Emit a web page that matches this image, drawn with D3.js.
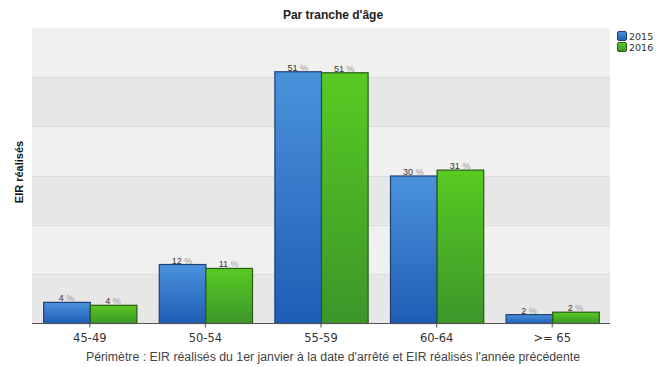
<!DOCTYPE html>
<html>
<head>
<meta charset="utf-8">
<script src="https://cdn.jsdelivr.net/npm/d3@7"></script>
<style>
  body { margin: 0; background: #fff; }
  svg { display: block; font-family: "Liberation Sans", Arial, sans-serif; }
</style>
</head>
<body>
<script>
// ---------------------
// Data
// ---------------------
var categories = ["45-49", "50-54", "55-59", "60-64", ">= 65"];
var series = ["2015", "2016"];
var values2015 = [4.3, 12, 51.2, 30, 1.8];
var values2016 = [3.7, 11.2, 51, 31.2, 2.3];
var labels2015 = ["4", "12", "51", "30", "2"];
var labels2016 = ["4", "11", "51", "31", "2"];
var yTicks = [0, 10, 20, 30, 40, 50, 60];

var w = 657, h = 367;
var pLeft = 32, pRight = 610, pTop = 28, pBottom = 323;

var svg = d3.select("body").append("svg")
  .attr("width", w)
  .attr("height", h);

var defs = svg.append("defs");
function grad(id, c1, c2) {
  var g = defs.append("linearGradient").attr("id", id)
    .attr("x1", 0).attr("y1", 0).attr("x2", 0).attr("y2", 1);
  g.append("stop").attr("offset", "0%").attr("stop-color", c1);
  g.append("stop").attr("offset", "100%").attr("stop-color", c2);
}
grad("gBlue", "#4b92dc", "#1f5db5");
grad("gGreen", "#58ca22", "#3c962a");

var x = d3.scaleBand().domain(categories).range([pLeft, pRight]).padding(0);
var xs = d3.scaleBand().domain(series).range([0, x.bandwidth()]).paddingOuter(0.24);
var y = d3.scaleLinear().domain([0, 60]).range([pBottom, pTop]);

// alternating bands
for (var i = 0; i < yTicks.length - 1; i++) {
  svg.append("rect")
    .attr("x", pLeft)
    .attr("y", y(yTicks[i + 1]))
    .attr("width", pRight - pLeft)
    .attr("height", y(yTicks[i]) - y(yTicks[i + 1]))
    .attr("fill", i % 2 == 0 ? "#e7e7e7" : "#f0f0f0");
}
svg.selectAll("line.grid")
  .data(yTicks.slice(1, -1))
  .enter().append("line")
  .attr("class", "grid")
  .attr("x1", pLeft).attr("x2", pRight)
  .attr("y1", function(d) { return Math.round(y(d)) + 0.5; })
  .attr("y2", function(d) { return Math.round(y(d)) + 0.5; })
  .attr("stroke", "#dadada");

// bars
var rows = categories.map(function(c, i) {
  return [
    { cat: c, s: "2015", v: values2015[i], lab: labels2015[i], fill: "url(#gBlue)", stroke: "#1d3f73" },
    { cat: c, s: "2016", v: values2016[i], lab: labels2016[i], fill: "url(#gGreen)", stroke: "#2d5a16" }
  ];
});
var flat = d3.merge(rows);

svg.selectAll("rect.bar")
  .data(flat)
  .enter().append("rect")
  .attr("class", "bar")
  .attr("x", function(d) { return x(d.cat) + xs(d.s) + 0.5; })
  .attr("y", function(d) { return y(d.v) + 0.5; })
  .attr("width", xs.bandwidth())
  .attr("height", function(d) { return y(0) - y(d.v); })
  .attr("fill", function(d) { return d.fill; })
  .attr("stroke", function(d) { return d.stroke; })
  .attr("stroke-width", 1.2);

var lab = svg.selectAll("text.val")
  .data(flat)
  .enter().append("text")
  .attr("class", "val")
  .attr("x", function(d) { return x(d.cat) + xs(d.s) + xs.bandwidth() / 2; })
  .attr("y", function(d) { return y(d.v) - 0.5; })
  .attr("text-anchor", "middle")
  .style("font-size", "9px");
lab.append("tspan").attr("fill", "#333").text(function(d) { return d.lab + " "; });
lab.append("tspan").attr("fill", "#999").text("%");

// x axis
var xAxis = d3.axisBottom(x).tickSize(4).tickPadding(6);
var gx = svg.append("g")
  .attr("transform", "translate(0," + (pBottom + 0.5) + ")")
  .call(xAxis);
gx.select(".domain").attr("stroke", "#555").attr("d", "M" + pLeft + ",0H" + pRight);
gx.selectAll(".tick line").attr("stroke", "#555");
gx.selectAll(".tick text")
  .attr("fill", "#333")
  .style("font-family", "'DejaVu Sans', Verdana, sans-serif")
  .style("font-size", "11.5px");

// title
svg.append("text")
  .attr("x", 333).attr("y", 19)
  .attr("text-anchor", "middle")
  .attr("fill", "#222")
  .style("font-size", "12px")
  .style("font-weight", "bold")
  .text("Par tranche d'âge");

// y title
svg.append("text")
  .attr("transform", "translate(23," + 172 + ") rotate(-90)")
  .attr("text-anchor", "middle")
  .attr("fill", "#111")
  .style("font-size", "11px")
  .style("font-weight", "bold")
  .text("EIR réalisés");

// footnote
svg.append("text")
  .attr("x", 333).attr("y", 361)
  .attr("text-anchor", "middle")
  .attr("fill", "#444")
  .style("font-size", "12.3px")
  .text("Périmètre : EIR réalisés du 1er janvier à la date d'arrêté et EIR réalisés l'année précédente");

// legend
var leg = svg.selectAll("g.leg")
  .data([{ s: "2015", fill: "url(#gBlue)", stroke: "#1d3f73" }, { s: "2016", fill: "url(#gGreen)", stroke: "#2d5a16" }])
  .enter().append("g")
  .attr("class", "leg")
  .attr("transform", function(d, i) { return "translate(617," + (31 + i * 11) + ")"; });
leg.append("rect")
  .attr("x", 0.5).attr("y", 0.5)
  .attr("width", 9).attr("height", 9)
  .attr("rx", 1.5)
  .attr("fill", function(d) { return d.fill; })
  .attr("stroke", function(d) { return d.stroke; });
leg.append("text")
  .attr("x", 12).attr("y", 8.5)
  .attr("fill", "#333")
  .style("font-family", "'DejaVu Sans', Verdana, sans-serif")
  .style("font-size", "9.5px")
  .text(function(d) { return d.s; });
</script>
</body>
</html>
